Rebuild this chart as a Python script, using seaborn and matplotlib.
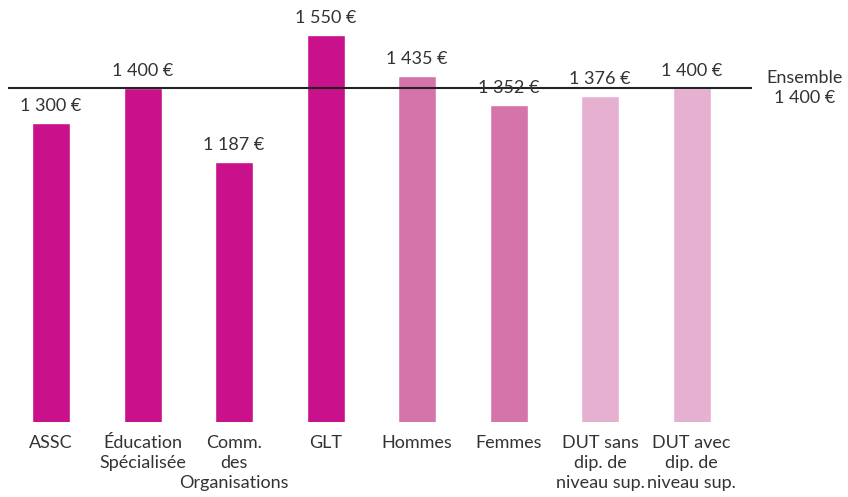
import matplotlib

matplotlib.use("Agg")
import matplotlib.pyplot as plt  # noqa: E402
import matplotlib.transforms as mtransforms  # noqa: E402
import pandas as pd  # noqa: E402
import seaborn as sns  # noqa: E402

# Median monthly net salary by speciality, sex and diploma
categories = [
    "ASSC",
    "Éducation\nSpécialisée",
    "Comm.\ndes\nOrganisations",
    "GLT",
    "Hommes",
    "Femmes",
    "DUT sans\ndip. de\nniveau sup.",
    "DUT avec\ndip. de\nniveau sup.",
]
salaries = [1300, 1400, 1187, 1550, 1435, 1352, 1376, 1400]
bar_colors = ["#C8118A"] * 4 + ["#D474AB"] * 2 + ["#E6B0D0"] * 2
overall = 1400
overall_label = "Ensemble\n1 400 €"


def euro(v):
    return f"{v:,}".replace(",", " ") + " €"


df = pd.DataFrame({"category": categories, "salary": salaries})

sns.set_style("white")
plt.rcParams["font.family"] = ["Lato", "DejaVu Sans"]
text_color = "#333333"

fig = plt.figure(figsize=(8.48, 4.97), dpi=100)
ax = fig.add_axes([8 / 848, 75 / 497, 744 / 848, 422 / 497])

sns.barplot(
    data=df, x="category", y="salary", hue="category",
    palette=bar_colors, saturation=1, width=0.415, dodge=False,
    legend=False, ax=ax,
)

ax.set_ylim(446, 1651)
ax.set_xlim(-0.47, 7.66)
ax.axhline(overall, color="#222222", lw=1.5, zorder=3)

for i, v in enumerate(salaries):
    ax.annotate(
        euro(v), (i, v), xytext=(0, 6.5), textcoords="offset points",
        ha="center", va="bottom", fontsize=13, color=text_color,
    )

trans = mtransforms.blended_transform_factory(ax.transAxes, ax.transData)
ax.text(1.071, overall, overall_label, transform=trans, ha="center", va="center",
        fontsize=13, color=text_color, clip_on=False, linespacing=1.3)

ax.set_xlabel("")
ax.set_ylabel("")
ax.set_yticks([])
ax.tick_params(axis="x", length=0, pad=9, labelsize=13, labelcolor=text_color)
for lbl in ax.get_xticklabels():
    lbl.set_linespacing(1.32)
sns.despine(ax=ax, left=True, bottom=True)

fig.savefig("out.png", dpi=100)
plt.close(fig)
